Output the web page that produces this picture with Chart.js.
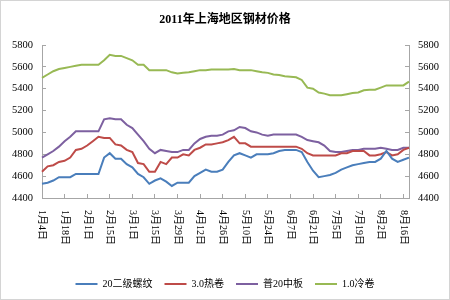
<!DOCTYPE html>
<html>
<head>
<meta charset="utf-8">
<script src="https://cdn.jsdelivr.net/npm/chart.js@4"></script>
<style>
  html, body { margin: 0; padding: 0; background: #fff; }
  #marco { width: 450px; height: 300px; box-sizing: border-box; border: 1px solid #d4d4d4; }
</style>
</head>
<body>
<div id="marco"><canvas id="grafico" width="448" height="298"></canvas></div>
<script>
// Etiquetas del eje X (una cada 10 días hábiles)
const fechasEje = ['1月4日', '1月18日', '2月1日', '2月15日', '3月1日', '3月15日', '3月29日', '4月12日', '4月26日',
  '5月10日', '5月24日', '6月7日', '6月21日', '7月5日', '7月19日', '8月2日', '8月16日'];
const paso = 4; // puntos entre etiquetas

// Precios (yuan/t)
const luowen = [4530, 4540, 4560, 4590, 4590, 4590, 4620, 4620, 4620, 4620,
  4620, 4770, 4810, 4760, 4760, 4710, 4680, 4620, 4590, 4530,
  4560, 4580, 4550, 4510, 4540, 4540, 4540, 4600, 4630, 4660,
  4640, 4640, 4660, 4730, 4790, 4810, 4790, 4770, 4800, 4800,
  4800, 4810, 4830, 4840, 4840, 4840, 4820, 4730, 4650, 4590,
  4600, 4610, 4630, 4660, 4680, 4700, 4710, 4720, 4730, 4730,
  4760, 4830, 4760, 4730, 4750, 4770];
const rejuan = [4640, 4690, 4700, 4730, 4740, 4770, 4840, 4850, 4880, 4920,
  4960, 4950, 4950, 4890, 4880, 4840, 4820, 4720, 4710, 4640,
  4640, 4730, 4710, 4770, 4770, 4800, 4790, 4840, 4860, 4890,
  4890, 4900, 4910, 4930, 4960, 4900, 4900, 4870, 4870, 4870,
  4870, 4870, 4870, 4870, 4870, 4870, 4850, 4810, 4790, 4790,
  4790, 4790, 4790, 4810, 4810, 4830, 4830, 4830, 4790, 4790,
  4800, 4820, 4790, 4800, 4840, 4860];
const zhongban = [4770, 4800, 4830, 4870, 4920, 4960, 5010, 5010, 5010, 5010,
  5010, 5120, 5130, 5120, 5120, 5070, 5040, 4980, 4920, 4850,
  4810, 4840, 4830, 4820, 4820, 4840, 4840, 4900, 4940, 4960,
  4970, 4970, 4980, 5010, 5020, 5050, 5040, 5010, 5000, 4980,
  4970, 4980, 4980, 4980, 4980, 4980, 4960, 4930, 4920, 4910,
  4880, 4830, 4820, 4820, 4830, 4840, 4840, 4850, 4850, 4850,
  4860, 4850, 4840, 4840, 4860, 4860];
const lengjuan = [5500, 5530, 5560, 5580, 5590, 5600, 5610, 5620, 5620, 5620,
  5620, 5660, 5710, 5700, 5700, 5680, 5660, 5620, 5620, 5570,
  5570, 5570, 5570, 5550, 5540, 5545, 5550, 5560, 5570, 5570,
  5575, 5575, 5575, 5575, 5580, 5570, 5570, 5570, 5560, 5550,
  5545, 5530, 5525, 5515, 5510, 5505, 5480, 5410, 5400, 5365,
  5355, 5340, 5340, 5340, 5350, 5360, 5365, 5385, 5390, 5390,
  5410, 5430, 5430, 5430, 5430, 5465];

const categorias = luowen.map((_, i) => (i % paso === 0 ? fechasEje[i / paso] : ''));

const fuenteSerif = '"Liberation Serif", "Noto Sans CJK SC", serif';

// Dibuja las fechas en vertical (giradas 90° a la derecha)
const etiquetasVerticales = {
  id: 'etiquetasVerticales',
  afterDraw(chart) {
    const eje = chart.scales.x;
    const ctx = chart.ctx;
    ctx.save();
    ctx.font = '10px ' + fuenteSerif;
    ctx.fillStyle = '#000';
    ctx.textAlign = 'left';
    ctx.textBaseline = 'middle';
    fechasEje.forEach((texto, k) => {
      const x = eje.getPixelForValue(k * paso);
      ctx.save();
      ctx.translate(x, eje.top + 12);
      ctx.rotate(Math.PI / 2);
      ctx.fillText(texto, 0, 0);
      ctx.restore();
    });
    ctx.restore();
  }
};

const serie = (nombre, datos, color) => ({
  label: nombre,
  data: datos,
  borderColor: color,
  backgroundColor: color,
  borderWidth: 2,
  pointRadius: 0,
  tension: 0,
  yAxisID: 'y'
});

const ejeY = (posicion) => ({
  position: posicion,
  min: 4400,
  max: 5800,
  ticks: {
    stepSize: 200,
    color: '#000',
    padding: 13,
    font: { family: fuenteSerif, size: 10.5 },
    callback: (v) => String(v) // sin separador de miles
  },
  grid: { drawOnChartArea: false, tickLength: -4, color: '#a6a6a6' },
  border: { color: '#a6a6a6' },
  afterFit(s) { s.width = posicion === 'left' ? 41 : 40; }
});

new Chart(document.getElementById('grafico').getContext('2d'), {
  type: 'line',
  data: {
    labels: categorias,
    datasets: [
      serie('20二级螺纹', luowen, '#4a7ebb'),
      serie('3.0热卷', rejuan, '#be4b48'),
      serie('普20中板', zhongban, '#7d60a0'),
      serie('1.0冷卷', lengjuan, '#98b954')
    ]
  },
  options: {
    responsive: false,
    animation: false,
    layout: { padding: 0 },
    scales: {
      x: {
        ticks: {
          autoSkip: false,
          maxRotation: 0,
          color: 'rgba(0,0,0,0)',
          font: { size: 1 },
          callback: (v, i) => (i % paso === 0 ? '' : null)
        },
        grid: { drawOnChartArea: false, tickLength: -4, color: '#a6a6a6' },
        border: { color: '#a6a6a6' },
        afterFit(s) { s.height = 69; }
      },
      y: ejeY('left'),
      y2: ejeY('right')
    },
    plugins: {
      title: {
        display: true,
        text: '2011年上海地区钢材价格',
        color: '#000',
        font: { family: fuenteSerif, size: 12, weight: 'bold' },
        padding: { top: 12, bottom: 17.6 }
      },
      legend: {
        position: 'bottom',
        maxHeight: 35,
        labels: {
          usePointStyle: true,
          pointStyle: 'line',
          pointStyleWidth: 22,
          padding: 12,
          color: '#000',
          font: { family: fuenteSerif, size: 10 }
        }
      },
      tooltip: { enabled: false }
    }
  },
  plugins: [etiquetasVerticales]
});
</script>
</body>
</html>
